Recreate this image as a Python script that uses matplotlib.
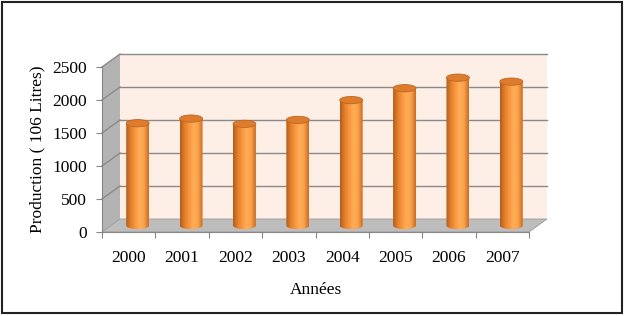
import numpy as np
import matplotlib
matplotlib.use("Agg")
from matplotlib import pyplot as plt
from matplotlib.patches import Polygon, Ellipse, Rectangle
from matplotlib.colors import LinearSegmentedColormap

# data
years = ['2000', '2001', '2002', '2003', '2004', '2005', '2006', '2007']
production = [1550, 1620, 1540, 1600, 1900, 2080, 2240, 2180]
yticks = [0, 500, 1000, 1500, 2000, 2500]

plt.rcParams['font.family'] = ['Liberation Serif', 'DejaVu Serif']

fig = plt.figure(figsize=(6.25, 3.16), dpi=100)
ax = fig.add_axes([102/625, 1-232/316, 427/625, 165/316])
ax.set_xlim(-0.5, 7.5)
ax.set_ylim(0, 2500)

# depth of the 3d box, in data units (about 18 px right, 13 px up)
DX = 18 / (427/8)
DY = 13 / (165/2500)

def proj(x, y, d):
    return (x + d*DX, y + d*DY)

x0, x1 = -0.5, 7.5
ytop = yticks[-1]

# back wall
wall = Polygon([proj(x0, 0, 1), proj(x1, 0, 1), proj(x1, ytop, 1), proj(x0, ytop, 1)],
               closed=True, facecolor='#fdeee6', edgecolor='none', zorder=1, clip_on=False)
ax.add_patch(wall)
for v in yticks[1:]:
    a, b = proj(x0, v, 1), proj(x1, v, 1)
    ax.plot([a[0], b[0]], [a[1], b[1]], color='#8a8a8a', lw=1, zorder=2, clip_on=False)

# left side wall
side = Polygon([proj(x0, 0, 0), proj(x0, 0, 1), proj(x0, ytop, 1), proj(x0, ytop, 0)],
               closed=True, facecolor='#b3b3b3', edgecolor='none', zorder=1, clip_on=False)
ax.add_patch(side)
for v in yticks[1:]:
    a, b = proj(x0, v, 0), proj(x0, v, 1)
    ax.plot([a[0], b[0]], [a[1], b[1]], color='#8a8a8a', lw=1, zorder=2, clip_on=False)

# floor
floor = Polygon([proj(x0, 0, 0), proj(x1, 0, 0), proj(x1, 0, 1), proj(x0, 0, 1)],
                closed=True, facecolor='#bdbdbd', edgecolor='#9a9a9a', lw=0.6, zorder=2, clip_on=False)
ax.add_patch(floor)

# cylinders
cmap = LinearSegmentedColormap.from_list('cyl', ['#b45c18', '#e27f2c', '#f8973f',
                                                 '#ffae58', '#f9a04a', '#c96d22'])
grad = np.linspace(0, 1, 64).reshape(1, -1)
r = 0.215
eh = 55
for i, v in enumerate(production):
    cx, base = proj(i, 0, 0.5)
    _, top = proj(i, v, 0.5)
    t = np.linspace(0, -np.pi, 40)
    pts = [(cx - r, top), (cx + r, top)] + [(cx + r*np.cos(a), base + eh*np.sin(a)) for a in t]
    clip = Polygon(pts, closed=True, transform=ax.transData)
    im = ax.imshow(grad, cmap=cmap, extent=(cx - r, cx + r, base - eh, top),
                   aspect='auto', zorder=3, interpolation='bilinear')
    im.set_clip_path(clip)
    ax.add_patch(Ellipse((cx, top), 2*r, 2*eh, facecolor='#dd7c2c',
                         edgecolor='#c0661f', lw=0.6, zorder=4))

ax.set_xlim(-0.5, 7.5)
ax.set_ylim(0, 2500)

# axes
for s in ['top', 'right']:
    ax.spines[s].set_visible(False)
for s in ['left', 'bottom']:
    ax.spines[s].set_color('#868686')
    ax.spines[s].set_zorder(5)
ax.set_yticks(yticks)
ax.set_xticks(np.arange(-0.5, 8, 1))
ax.set_xticklabels([])
ax.set_xticks(np.arange(len(years)), minor=True)
ax.set_xticklabels(years, minor=True)
ax.tick_params(which='major', color='#868686', length=4, labelsize=12.5)
ax.tick_params(axis='y', pad=7)
ax.tick_params(axis='x', which='minor', length=0, pad=13, labelsize=12.5)
ax.set_ylabel('Production ( 106 Litres)', fontsize=12.5)
ax.yaxis.set_label_coords(-0.133, 0.5)
ax.set_xlabel('Années', fontsize=12.5)
ax.xaxis.set_label_coords(0.5, -0.3)

# frame
fig.patches.append(Rectangle((2/625, 3/316), 620/625, 311/316, transform=fig.transFigure,
                             fill=False, edgecolor='#222222', lw=1.5))

plt.savefig('out.png', dpi=100)
